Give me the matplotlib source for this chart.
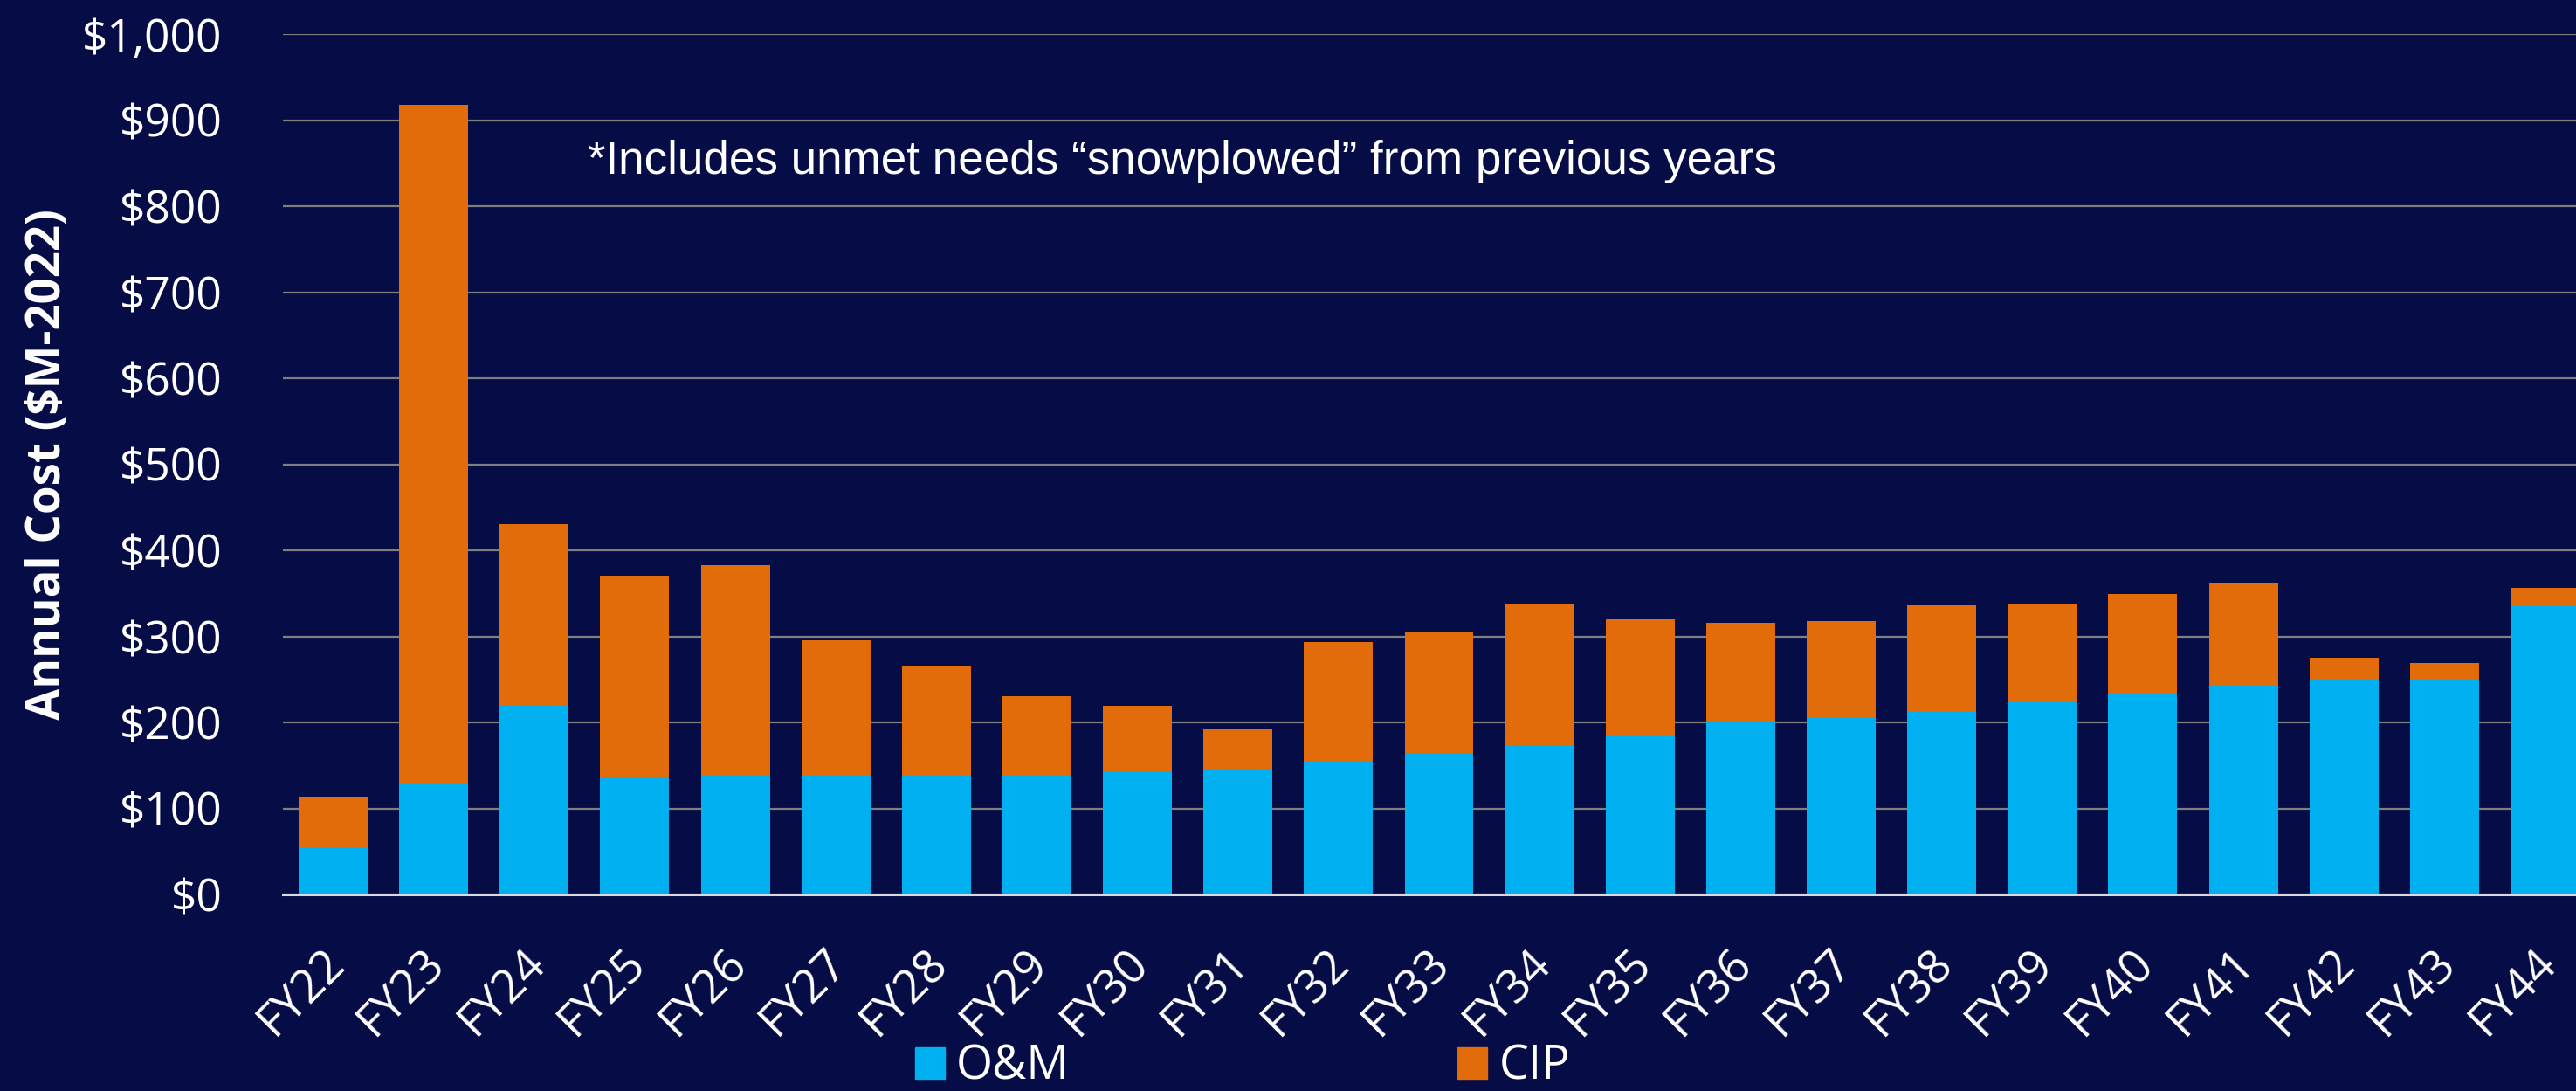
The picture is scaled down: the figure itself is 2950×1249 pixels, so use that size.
import matplotlib
matplotlib.use('Agg')
import matplotlib.pyplot as plt
import matplotlib.transforms as mtransforms
from matplotlib.patches import Patch
import numpy as np

years = ['FY22', 'FY23', 'FY24', 'FY25', 'FY26', 'FY27', 'FY28', 'FY29', 'FY30', 'FY31', 'FY32',
         'FY33', 'FY34', 'FY35', 'FY36', 'FY37', 'FY38', 'FY39', 'FY40', 'FY41', 'FY42', 'FY43', 'FY44']
om = [55, 128, 219, 137, 139, 139, 139, 139, 143, 145, 154,
      164, 173, 185, 200, 206, 213, 223, 234, 244, 249, 249, 336]
total = [114, 918, 430, 371, 383, 295, 265, 230, 219, 192, 293,
         305, 337, 320, 316, 318, 336, 338, 349, 361, 275, 269, 356]
cip = [t - o for t, o in zip(total, om)]
yticks = list(range(0, 1001, 100))

bg = '#060C46'
blue = '#00B0F0'
orange = '#E36C0A'

plt.rcParams['font.family'] = ['Open Sans', 'DejaVu Sans']

fig = plt.figure(figsize=(29.5, 12.49), dpi=100)
fig.patch.set_facecolor(bg)
ax = fig.add_axes([324/2950, 225/1249, 2648/2950, 985/1249])
ax.set_facecolor(bg)

x = np.arange(len(years))
ax.bar(x, om, width=0.686, color=blue, zorder=3)
ax.bar(x, cip, bottom=om, width=0.686, color=orange, zorder=3)

ax.set_xlim(-0.5, len(years) - 0.5)
ax.set_ylim(0, 1000)
ax.set_yticks(yticks)
ax.set_yticklabels(['${:,}'.format(v) for v in yticks])
ax.yaxis.grid(True, color='#7F7F7F', linewidth=1.6, zorder=0)
ax.set_axisbelow(True)

ax.set_xticks(x)
ax.set_xticklabels(years, rotation=45, ha='right', va='center', rotation_mode='anchor')
ax.tick_params(axis='x', length=0, pad=51, labelsize=38, colors='white')
ax.tick_params(axis='y', length=0, pad=50, labelsize=37, colors='white')
shift = mtransforms.ScaledTranslation(5/100, 0, fig.dpi_scale_trans)
for lab in ax.get_xticklabels():
    lab.set_transform(lab.get_transform() + shift)

for s in ['top', 'right', 'left']:
    ax.spines[s].set_visible(False)
ax.spines['bottom'].set_color('#D9D9D9')
ax.spines['bottom'].set_linewidth(2.2)
ax.spines['bottom'].set_zorder(4)

ax.set_ylabel('Annual Cost ($M-2022)', fontsize=38, fontweight='bold', color='white')
ax.yaxis.set_label_coords(-242/2648, 0.5)

ax.text(0.1318, 0.8376, '*Includes unmet needs \u201csnowplowed\u201d from previous years',
        transform=ax.transAxes, fontsize=38.2, color='white', family='Liberation Sans', va='baseline')

handles = [Patch(facecolor=blue, edgecolor=blue), Patch(facecolor=orange, edgecolor=orange)]
leg = fig.legend(handles, ['O&M', 'CIP'], loc='lower left', bbox_to_anchor=(1048/2950, 0),
                 ncol=2, frameon=False, fontsize=39, handlelength=0.63, handleheight=0.66,
                 handletextpad=0.24, columnspacing=8.2, borderaxespad=0, borderpad=0)
for t in leg.get_texts():
    t.set_color('white')

fig.savefig('out.png', dpi=100, facecolor=bg)
